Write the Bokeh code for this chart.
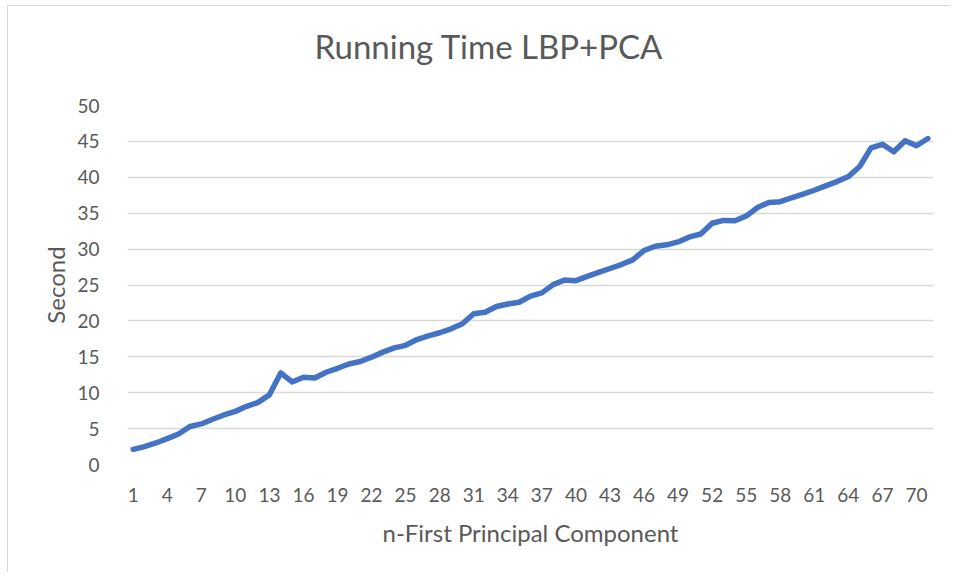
from bokeh.plotting import figure
from bokeh.models import FixedTicker, Range1d, Title
from bokeh.embed import file_html
from bokeh.resources import INLINE

n_components = list(range(1, 72))
seconds = [
    2.1, 2.5, 3.0, 3.6, 4.25, 5.3, 5.65, 6.3, 6.9, 7.4,
    8.1, 8.65, 9.7, 12.75, 11.5, 12.15, 12.05, 12.85, 13.4, 14.0,
    14.35, 14.95, 15.65, 16.25, 16.6, 17.4, 17.9, 18.35, 18.9, 19.6,
    21.0, 21.2, 22.0, 22.35, 22.6, 23.45, 23.9, 25.05, 25.7, 25.6,
    26.2, 26.75, 27.3, 27.85, 28.5, 29.8, 30.4, 30.6, 31.0, 31.7,
    32.1, 33.6, 34.0, 33.95, 34.6, 35.8, 36.5, 36.6, 37.15, 37.65,
    38.2, 38.8, 39.4, 40.1, 41.5, 44.1, 44.6, 43.55, 45.1, 44.4,
    45.4,
]
x_ticks = list(range(1, 72, 3))
y_ticks = list(range(0, 51, 5))
title_text = "Running Time LBP+PCA"
x_title = "n-First Principal Component"
y_title = "Second"

FONT = "Lato"
TXT = "#595959"

p = figure(
    frame_width=806, frame_height=359,
    min_border_left=119, min_border_right=17,
    min_border_top=99, min_border_bottom=108,
    x_range=Range1d(0.5, 71.5), y_range=Range1d(0, 50),
    output_backend="svg", toolbar_location=None,
)
p.styles = {
    "margin-left": "7px", "margin-top": "5px",
    "border-left": "1px solid #d9d9d9", "border-top": "1px solid #d9d9d9",
}
p.outline_line_color = None
p.background_fill_color = "white"
p.border_fill_color = "white"

p.line(n_components, seconds, line_color="#4472C4", line_width=5.5,
       line_join="round", line_cap="round")

for ax in (p.xaxis[0], p.yaxis[0]):
    ax.axis_line_color = None
    ax.major_tick_line_color = None
    ax.minor_tick_line_color = None
    ax.major_label_text_font = FONT
    ax.major_label_text_color = TXT
    ax.major_label_text_font_size = "19px"
    ax.axis_label_text_font = FONT
    ax.axis_label_text_color = TXT
    ax.axis_label_text_font_size = "24px"
    ax.axis_label_text_font_style = "normal"

p.xaxis.ticker = FixedTicker(ticks=x_ticks)
p.yaxis.ticker = FixedTicker(ticks=y_ticks)
p.xaxis.axis_label = x_title
p.yaxis.axis_label = y_title
p.xaxis.major_label_standoff = 17
p.yaxis.major_label_standoff = 22
p.xaxis.axis_label_standoff = 13
p.yaxis.axis_label_standoff = 4

p.xgrid.grid_line_color = None
p.ygrid.grid_line_color = "#d9d9d9"
p.ygrid.grid_line_width = 1.5
p.ygrid.ticker = FixedTicker(ticks=y_ticks)

# spacer between frame and title
p.add_layout(Title(text=" ", text_font_size="1px", standoff=32), "above")
p.add_layout(Title(text=title_text, align="left", offset=187, standoff=10,
                   text_font=FONT, text_font_size="33px", text_color=TXT,
                   text_font_style="normal"), "above")

open("out.html", "w").write(file_html(p, INLINE))
